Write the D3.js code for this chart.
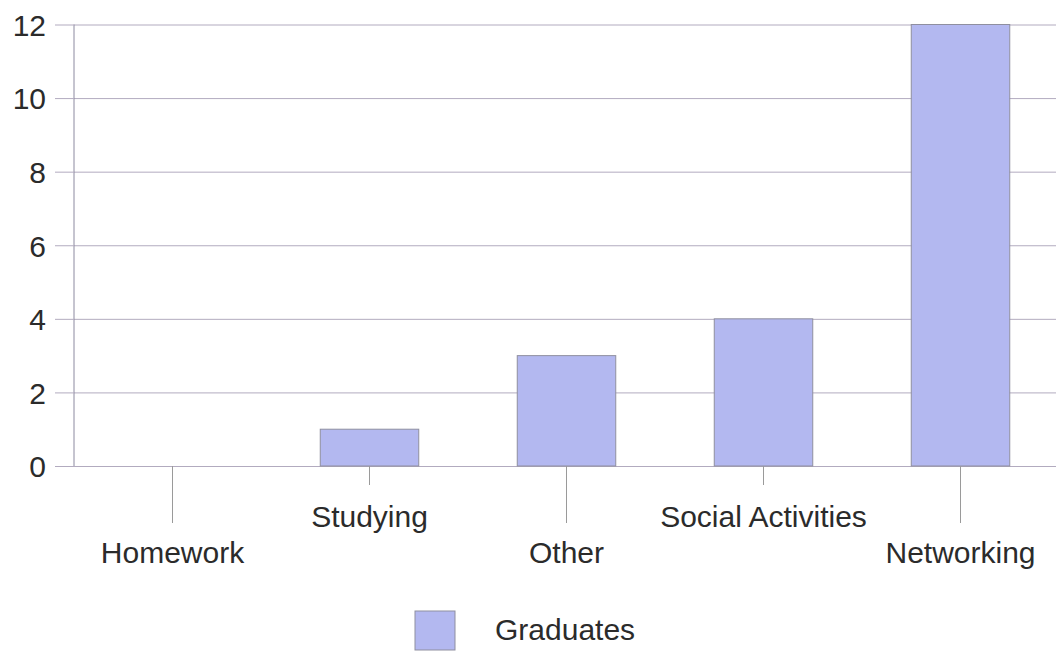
<!DOCTYPE html>
<html>
<head>
<meta charset="utf-8">
<script src="https://cdn.jsdelivr.net/npm/d3@7"></script>
<style>
  html, body { margin: 0; padding: 0; background: #fff; }
  svg { display: block; }
  text { font-family: "Liberation Sans", Arial, sans-serif; fill: #2b2b2b; }
</style>
</head>
<body>
<svg id="chart" width="1056" height="654"></svg>
<script>
const categories = ["Homework", "Studying", "Other", "Social Activities", "Networking"];
const graduates = [0, 1, 3, 4, 12];
const yTicks = [0, 2, 4, 6, 8, 10, 12];
const seriesName = "Graduates";

(function () {
const svg = d3.select("#chart");
const plotLeft = 74, plotRight = 1059, plotTop = 24.5, plotBottom = 466;
const barColor = "#b3b8f0";
const gridColor = "#b2abbf";

const x = d3.scaleBand().domain(categories).range([plotLeft, plotRight])
  .paddingInner(0.5).paddingOuter(0.25);
const y = d3.scaleLinear().domain([0, 12]).range([plotBottom, plotTop]);

// gridlines
const grid = svg.append("g").attr("transform", `translate(${plotLeft},0)`)
  .call(d3.axisLeft(y).tickValues(yTicks).tickSize(-(plotRight - plotLeft)).tickFormat(""));
grid.select(".domain").remove();
grid.selectAll("line").attr("stroke", gridColor).attr("stroke-width", 1);

// y axis labels and outer ticks
const yAxis = svg.append("g").attr("transform", `translate(${plotLeft},0)`)
  .call(d3.axisLeft(y).tickValues(yTicks).tickSize(19).tickPadding(9).tickFormat(d3.format("d")));
yAxis.select(".domain").attr("stroke", "#8c8aa0").attr("d", `M0,${plotTop}V${plotBottom}`);
yAxis.selectAll("line").attr("stroke", gridColor);
yAxis.selectAll("text").attr("font-size", 30).attr("dy", "0.36em")
  .style("font-family", "'Liberation Sans', Arial, sans-serif").attr("fill", "#2b2b2b");

// bars
svg.append("g").selectAll("rect").data(categories).join("rect")
  .attr("x", d => x(d))
  .attr("width", x.bandwidth())
  .attr("y", (d, i) => y(graduates[i]))
  .attr("height", (d, i) => y(0) - y(graduates[i]))
  .attr("fill", barColor)
  .attr("stroke", "#8f8f9f")
  .attr("stroke-width", 1)
  .attr("display", (d, i) => graduates[i] > 0 ? null : "none");

// x ticks (staggered) and labels
const xg = svg.append("g");
categories.forEach((c, i) => {
  const cx = x(c) + x.bandwidth() / 2;
  const longTick = i % 2 === 0;
  xg.append("line")
    .attr("x1", cx).attr("x2", cx)
    .attr("y1", plotBottom).attr("y2", plotBottom + (longTick ? 57 : 19))
    .attr("stroke", "#9a9a9a").attr("stroke-width", 1);
  xg.append("text")
    .attr("x", cx).attr("y", longTick ? 563 : 527)
    .attr("text-anchor", "middle")
    .attr("font-size", 30)
    .text(c);
});

// legend
const lg = svg.append("g");
lg.append("rect").attr("x", 415).attr("y", 611).attr("width", 40).attr("height", 39)
  .attr("fill", barColor).attr("stroke", "#8f8f9f").attr("stroke-width", 1);
lg.append("text").attr("x", 495).attr("y", 640).attr("font-size", 30).text(seriesName);
})();
</script>
</body>
</html>
